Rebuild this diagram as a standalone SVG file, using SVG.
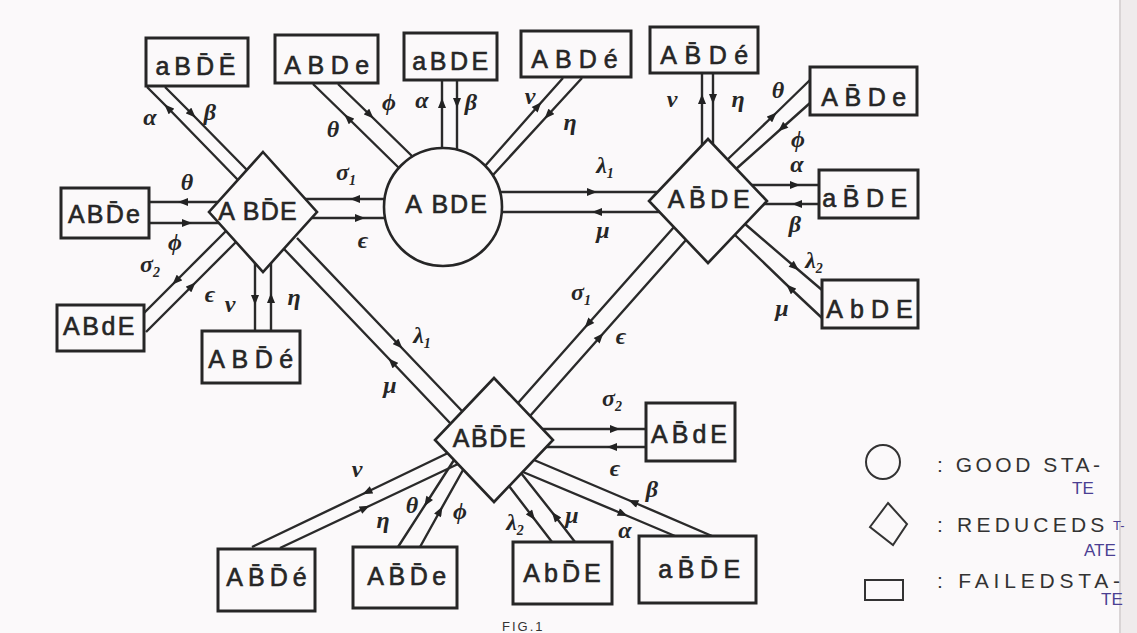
<svg xmlns="http://www.w3.org/2000/svg" width="1137" height="633" viewBox="0 0 1137 633">
  <defs>
    <style>
      .bg { fill: #fbf9fa; }
      .box { fill: none; stroke: #262626; stroke-width: 3; }
      .shape { fill: none; stroke: #262626; stroke-width: 2.6; }
      .c { fill: none; stroke: #2a2a2a; stroke-width: 2.4; marker-mid: url(#ah); }
      .nt { font-family: "Liberation Sans", "DejaVu Sans", sans-serif; font-size: 25px; fill: #262626; stroke: #262626; stroke-width: 0.6px; text-anchor: middle; }
      .rt { font-family: "Liberation Serif", "DejaVu Serif", serif; font-style: italic; font-weight: bold; font-size: 24px; fill: #262626; text-anchor: middle; }
      .sub { font-size: 14px; }
      .lg { fill: none; stroke: #333; stroke-width: 2; }
      .lt { font-family: "Liberation Sans", "DejaVu Sans", sans-serif; font-size: 21px; fill: #333; }
      .lp { font-family: "Liberation Sans", "DejaVu Sans", sans-serif; font-size: 17px; fill: #4b3f92; }
    </style>
    <marker id="ah" viewBox="0 0 10 8" refX="5" refY="4" markerWidth="11" markerHeight="8" markerUnits="userSpaceOnUse" orient="auto">
      <path d="M0,0 L10,4 L0,8 z" fill="#222"/>
    </marker>
  </defs>

  <rect class="bg" x="0" y="0" width="1137" height="633"/>
  <rect x="1120" y="0" width="17" height="633" fill="#efebec"/>
  <line x1="1120" y1="0" x2="1120" y2="633" stroke="#d9d4d5" stroke-width="2"/>

  <!-- transition pairs: each line carries one arrowhead at its mid vertex -->
  <g id="connectors">
    <!-- ABD̄E <-> aBD̄Ē -->
    <path class="c" d="M238 180 L168 108 L147 87"/>
    <path class="c" d="M165 87 L192 114 L247 170"/>
    <!-- ABD̄E <-> ABD̄e -->
    <path class="c" d="M218 202 L183 202 L149 202"/>
    <path class="c" d="M149 223 L187 223 L219 223"/>
    <!-- ABD̄E <-> ABdE -->
    <path class="c" d="M226 231 L176 281 L144 313"/>
    <path class="c" d="M146 332 L192 286 L236 242"/>
    <!-- ABD̄E <-> ABD̄é -->
    <path class="c" d="M255 263 L255 300 L255 331"/>
    <path class="c" d="M271 331 L271 298 L271 263"/>
    <!-- ABDE <-> ABD̄E -->
    <path class="c" d="M385 199 L355 199 L305 199"/>
    <path class="c" d="M312 218 L360 218 L385 218"/>
    <!-- ABD̄E <-> AB̄D̄E -->
    <path class="c" d="M297 238 L399 345 L462 411"/>
    <path class="c" d="M450 423 L392 362 L284 249"/>
    <!-- ABDE <-> AB̄DE -->
    <path class="c" d="M500 192 L592 192 L657 192"/>
    <path class="c" d="M660 212 L597 212 L502 212"/>
    <!-- AB̄DE <-> AB̄Dé -->
    <path class="c" d="M702 145 L702 99 L702 73"/>
    <path class="c" d="M713 73 L713 99 L713 144"/>
    <!-- AB̄DE <-> AB̄De -->
    <path class="c" d="M727 160 L773 116 L810 80"/>
    <path class="c" d="M810 103 L782 128 L736 169"/>
    <!-- AB̄DE <-> aB̄DE -->
    <path class="c" d="M752 185 L795 185 L819 185"/>
    <path class="c" d="M819 204 L797 204 L764 204"/>
    <!-- AB̄DE <-> AbDE -->
    <path class="c" d="M745 224 L795 267 L822 290"/>
    <path class="c" d="M822 318 L790 288 L735 235"/>
    <!-- ABDE <-> ABDe -->
    <path class="c" d="M399 168 L348 118 L313 84"/>
    <path class="c" d="M338 84 L370 115 L412 156"/>
    <!-- ABDE <-> aBDE -->
    <path class="c" d="M442 148 L442 103 L442 80"/>
    <path class="c" d="M457 80 L457 103 L457 150"/>
    <!-- ABDE <-> ABDé -->
    <path class="c" d="M485 166 L538 106 L563 78"/>
    <path class="c" d="M582 78 L548 115 L493 175"/>
    <!-- AB̄D̄E <-> AB̄dE -->
    <path class="c" d="M543 429 L615 429 L646 429"/>
    <path class="c" d="M646 447 L612 447 L546 447"/>
    <!-- AB̄D̄E <-> aB̄D̄E -->
    <path class="c" d="M712 536 L633 502 L534 460"/>
    <path class="c" d="M523 472 L623 514 L675 536"/>
    <!-- AB̄D̄E <-> AbD̄E -->
    <path class="c" d="M509 486 L532 516 L552 542"/>
    <path class="c" d="M575 542 L555 516 L521 473"/>
    <!-- AB̄D̄E <-> AB̄D̄e -->
    <path class="c" d="M454 460 L427 502 L398 547"/>
    <path class="c" d="M420 547 L440 511 L463 470"/>
    <!-- AB̄D̄E <-> AB̄D̄é -->
    <path class="c" d="M448 453 L367 492 L252 547"/>
    <path class="c" d="M280 548 L365 508 L458 464"/>
    <!-- AB̄DE <-> AB̄D̄E -->
    <path class="c" d="M674 227 L588 324 L518 403"/>
    <path class="c" d="M530 416 L600 337 L686 240"/>

    <!-- rate labels -->
    <g id="rates">
      <text class="rt" x="150" y="125">α</text>
      <text class="rt" x="210" y="120">β</text>
      <text class="rt" x="187" y="190">θ</text>
      <text class="rt" x="175" y="250">ϕ</text>
      <text class="rt" x="150" y="272">σ<tspan class="sub" dy="5">2</tspan></text>
      <text class="rt" x="210" y="302">ϵ</text>
      <text class="rt" x="230" y="312">ν</text>
      <text class="rt" x="294" y="305">η</text>
      <text class="rt" x="346" y="180">σ<tspan class="sub" dy="5">1</tspan></text>
      <text class="rt" x="363" y="248">ϵ</text>
      <text class="rt" x="422" y="343">λ<tspan class="sub" dy="5">1</tspan></text>
      <text class="rt" x="390" y="393">μ</text>
      <text class="rt" x="605" y="173">λ<tspan class="sub" dy="5">1</tspan></text>
      <text class="rt" x="603" y="238">μ</text>
      <text class="rt" x="672" y="107">ν</text>
      <text class="rt" x="738" y="107">η</text>
      <text class="rt" x="778" y="98">θ</text>
      <text class="rt" x="798" y="147">ϕ</text>
      <text class="rt" x="797" y="172">α</text>
      <text class="rt" x="795" y="232">β</text>
      <text class="rt" x="814" y="268">λ<tspan class="sub" dy="5">2</tspan></text>
      <text class="rt" x="782" y="316">μ</text>
      <text class="rt" x="333" y="137">θ</text>
      <text class="rt" x="389" y="110">ϕ</text>
      <text class="rt" x="422" y="108">α</text>
      <text class="rt" x="471" y="110">β</text>
      <text class="rt" x="530" y="104">ν</text>
      <text class="rt" x="570" y="130">η</text>
      <text class="rt" x="612" y="406">σ<tspan class="sub" dy="5">2</tspan></text>
      <text class="rt" x="615" y="476">ϵ</text>
      <text class="rt" x="652" y="497">β</text>
      <text class="rt" x="625" y="538">α</text>
      <text class="rt" x="515" y="530">λ<tspan class="sub" dy="5">2</tspan></text>
      <text class="rt" x="572" y="523">μ</text>
      <text class="rt" x="412" y="513">θ</text>
      <text class="rt" x="460" y="519">ϕ</text>
      <text class="rt" x="357" y="477">ν</text>
      <text class="rt" x="383" y="528">η</text>
      <text class="rt" x="581" y="300">σ<tspan class="sub" dy="5">1</tspan></text>
      <text class="rt" x="621" y="344">ϵ</text>
    </g>
  </g>

  <!-- good state -->
  <g id="n-ABDE">
    <circle class="shape" cx="443" cy="207" r="59"/>
    <text class="nt" x="447" y="213" style="letter-spacing:2px">A BDE</text>
  </g>

  <!-- reduced states -->
  <g id="n-ABdE-r">
    <polygon class="shape" points="263,152 317,212 263,272 209,212"/>
    <text class="nt" x="258" y="220" style="letter-spacing:1.2px">A BD&#x304;E</text>
  </g>
  <g id="n-AbDE-r">
    <polygon class="shape" points="708,139 767,201 708,263 649,201"/>
    <text class="nt" x="711" y="208" style="letter-spacing:4.6px">AB&#x304;DE</text>
  </g>
  <g id="n-AbdE-r">
    <polygon class="shape" points="494,378 553,440 494,502 435,440"/>
    <text class="nt" x="490" y="447" style="letter-spacing:1.6px">AB&#x304;D&#x304;E</text>
  </g>

  <!-- failed states -->
  <g id="n-aBdE-top">
    <rect class="box" x="146" y="38" width="102" height="48"/>
    <text class="nt" x="198" y="75" style="letter-spacing:4.9px">aBD&#x304;E&#x304;</text>
  </g>
  <g id="n-ABDe">
    <rect class="box" x="275" y="35" width="103" height="48"/>
    <text class="nt" x="330" y="74" style="letter-spacing:6.5px">ABDe</text>
  </g>
  <g id="n-aBDE">
    <rect class="box" x="404" y="33" width="93" height="47"/>
    <text class="nt" x="452" y="70" style="letter-spacing:3.5px">aBDE</text>
  </g>
  <g id="n-ABDe2">
    <rect class="box" x="521" y="31" width="110" height="46"/>
    <text class="nt" x="578" y="68" style="letter-spacing:7px">ABDé</text>
  </g>
  <g id="n-AbDe2">
    <rect class="box" x="650" y="27" width="108" height="46"/>
    <text class="nt" x="708" y="64" style="letter-spacing:7.5px">AB&#x304;Dé</text>
  </g>
  <g id="n-AbDe">
    <rect class="box" x="810" y="67" width="107" height="48"/>
    <text class="nt" x="867" y="106" style="letter-spacing:6.5px">AB&#x304;De</text>
  </g>
  <g id="n-abDE">
    <rect class="box" x="819" y="170" width="99" height="48"/>
    <text class="nt" x="868" y="207" style="letter-spacing:6.5px">aB&#x304;DE</text>
  </g>
  <g id="n-AbDE-b">
    <rect class="box" x="822" y="280" width="96" height="48"/>
    <text class="nt" x="873" y="318" style="letter-spacing:7px">AbDE</text>
  </g>
  <g id="n-ABde">
    <rect class="box" x="61" y="188" width="88" height="50"/>
    <text class="nt" x="105" y="223" style="letter-spacing:2.2px">ABD&#x304;e</text>
  </g>
  <g id="n-ABdE">
    <rect class="box" x="57" y="305" width="87" height="46"/>
    <text class="nt" x="100" y="335" style="letter-spacing:2.5px">ABdE</text>
  </g>
  <g id="n-ABde2">
    <rect class="box" x="202" y="331" width="98" height="52"/>
    <text class="nt" x="254" y="368" style="letter-spacing:6.5px">ABD&#x304;é</text>
  </g>
  <g id="n-AbdE-f">
    <rect class="box" x="646" y="403" width="89" height="58"/>
    <text class="nt" x="691" y="443" style="letter-spacing:4px">AB&#x304;dE</text>
  </g>
  <g id="n-abdE">
    <rect class="box" x="639" y="536" width="117" height="67"/>
    <text class="nt" x="702" y="578" style="letter-spacing:5.5px">aB&#x304;D&#x304;E</text>
  </g>
  <g id="n-AbdE-b">
    <rect class="box" x="513" y="542" width="99" height="62"/>
    <text class="nt" x="564" y="582" style="letter-spacing:4px">AbD&#x304;E</text>
  </g>
  <g id="n-Abde">
    <rect class="box" x="353" y="547" width="104" height="61"/>
    <text class="nt" x="409" y="585" style="letter-spacing:4.5px">AB&#x304;D&#x304;e</text>
  </g>
  <g id="n-Abde2">
    <rect class="box" x="218" y="549" width="97" height="62"/>
    <text class="nt" x="269" y="586" style="letter-spacing:5px">AB&#x304;D&#x304;é</text>
  </g>

  <!-- key -->
  <g id="legend">
    <circle class="lg" cx="883" cy="462" r="17"/>
    <text class="lt" x="937" y="472" style="letter-spacing:3.5px">: GOOD STA-</text>
    <text class="lp" x="1072" y="494">TE</text>
    <polygon class="lg" points="888,503 907,524 893,545 870,527"/>
    <text class="lt" x="937" y="532" style="letter-spacing:4.2px">: REDUCEDS</text>
    <text class="lp" x="1113" y="530" style="font-size:13px">T-</text>
    <text class="lp" x="1084" y="556">ATE</text>
    <rect class="lg" x="865" y="580" width="38" height="20"/>
    <text class="lt" x="937" y="588" style="letter-spacing:4.8px">: FAILEDSTA-</text>
    <text class="lp" x="1101" y="605">TE</text>
  </g>

  <text x="502" y="631" style="font-family:'Liberation Sans','DejaVu Sans',sans-serif;font-size:13px;letter-spacing:2px;fill:#333">FIG.1</text>
</svg>
